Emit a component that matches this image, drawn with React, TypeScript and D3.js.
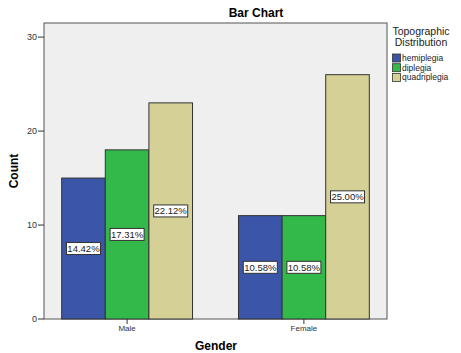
import React, { useEffect, useRef } from 'react';
import * as d3 from 'd3';

const genders = ['Male', 'Female'];
const distributions = ['hemiplegia', 'diplegia', 'quadriplegia'];
const maleCounts = [15, 18, 23];
const femaleCounts = [11, 11, 26];
const malePercents = ['14.42%', '17.31%', '22.12%'];
const femalePercents = ['10.58%', '10.58%', '25.00%'];
const yTicks = [0, 10, 20, 30];
const colors = ['#3b55a8', '#33b84a', '#d5d196'];

const App: React.FC = () => {
  const ref = useRef<SVGSVGElement>(null);

  useEffect(() => {
    if (!ref.current) return;
    const svg = d3.select(ref.current);
    svg.selectAll('*').remove();

    const font = 'Liberation Sans, Arial, sans-serif';
    const left = 44, right = 387, top = 23, bottom = 319;

    const x0 = d3.scaleBand<string>()
      .domain(genders)
      .range([left, right])
      .paddingInner(0.26)
      .paddingOuter(0.1);
    const x1 = d3.scaleBand<string>()
      .domain(distributions)
      .range([0, x0.bandwidth()]);
    const y = d3.scaleLinear().domain([0, 31.5]).range([bottom, top]);

    // plot background
    svg.append('rect')
      .attr('x', left).attr('y', top)
      .attr('width', right - left).attr('height', bottom - top)
      .attr('fill', '#efefef')
      .attr('stroke', '#555').attr('stroke-width', 1);

    const data = [
      { gender: 'Male', counts: maleCounts, pcts: malePercents },
      { gender: 'Female', counts: femaleCounts, pcts: femalePercents }
    ];

    data.forEach(g => {
      const gx = x0(g.gender)!;
      g.counts.forEach((c, i) => {
        const bx = gx + x1(distributions[i])!;
        svg.append('rect')
          .attr('x', bx).attr('y', y(c))
          .attr('width', x1.bandwidth()).attr('height', y(0) - y(c))
          .attr('fill', colors[i])
          .attr('stroke', '#333').attr('stroke-width', 1);
      });
      g.counts.forEach((c, i) => {
        const cx = gx + x1(distributions[i])! + x1.bandwidth() / 2;
        const cy = (y(c) + y(0)) / 2;
        svg.append('rect')
          .attr('x', cx - 17).attr('y', cy - 6)
          .attr('width', 34).attr('height', 12)
          .attr('fill', '#fff')
          .attr('stroke', '#333').attr('stroke-width', 1);
        svg.append('text')
          .attr('x', cx).attr('y', cy + 3.5)
          .attr('text-anchor', 'middle')
          .attr('font-family', font).attr('font-size', 9.5)
          .attr('fill', '#222')
          .text(g.pcts[i]);
      });
    });

    // y axis
    const yAxis = svg.append('g');
    yTicks.forEach(t => {
      yAxis.append('line')
        .attr('x1', left - 6).attr('x2', left)
        .attr('y1', y(t)).attr('y2', y(t))
        .attr('stroke', '#333');
      yAxis.append('text')
        .attr('x', left - 7).attr('y', y(t) + 3)
        .attr('text-anchor', 'end')
        .attr('font-family', font).attr('font-size', 9)
        .attr('fill', '#333')
        .text(t);
    });

    // x axis
    genders.forEach(gn => {
      const cx = x0(gn)! + x0.bandwidth() / 2;
      svg.append('line')
        .attr('x1', cx).attr('x2', cx)
        .attr('y1', bottom).attr('y2', bottom + 5)
        .attr('stroke', '#333');
      svg.append('text')
        .attr('x', cx).attr('y', bottom + 12)
        .attr('text-anchor', 'middle')
        .attr('font-family', font).attr('font-size', 8)
        .attr('fill', '#333')
        .text(gn);
    });

    svg.append('text')
      .attr('x', 256).attr('y', 17)
      .attr('text-anchor', 'middle')
      .attr('font-family', font).attr('font-size', 12).attr('font-weight', 'bold')
      .text('Bar Chart');

    svg.append('text')
      .attr('x', 216).attr('y', 350)
      .attr('text-anchor', 'middle')
      .attr('font-family', font).attr('font-size', 12).attr('font-weight', 'bold')
      .text('Gender');

    svg.append('text')
      .attr('transform', `translate(18,${(top + bottom) / 2}) rotate(-90)`)
      .attr('text-anchor', 'middle')
      .attr('font-family', font).attr('font-size', 12).attr('font-weight', 'bold')
      .text('Count');

    // legend
    const lg = svg.append('g');
    lg.append('text')
      .attr('x', 421).attr('y', 35)
      .attr('text-anchor', 'middle')
      .attr('font-family', font).attr('font-size', 10.5).attr('fill', '#222')
      .text('Topographic');
    lg.append('text')
      .attr('x', 421).attr('y', 45.5)
      .attr('text-anchor', 'middle')
      .attr('font-family', font).attr('font-size', 10.5).attr('fill', '#222')
      .text('Distribution');
    distributions.forEach((d, i) => {
      const ly = 58 + i * 9.7;
      lg.append('rect')
        .attr('x', 392.5).attr('y', ly - 4)
        .attr('width', 8).attr('height', 8)
        .attr('fill', colors[i])
        .attr('stroke', '#333').attr('stroke-width', 0.8);
      lg.append('text')
        .attr('x', 402).attr('y', ly + 3)
        .attr('font-family', font).attr('font-size', 8.5).attr('fill', '#222')
        .text(d);
    });
  }, []);

  return (
    <svg ref={ref} width={461} height={353}
      style={{ position: 'absolute', left: 0, top: 0, background: '#fff' }} />
  );
};

export default App;
